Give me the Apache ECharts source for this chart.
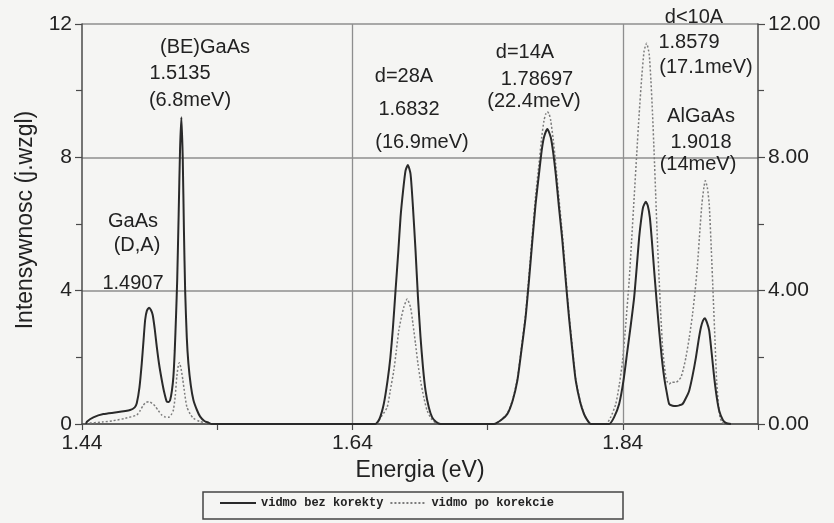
<!DOCTYPE html>
<html>
<head>
<meta charset="utf-8">
<script src="https://cdn.jsdelivr.net/npm/echarts@6/dist/echarts.min.js"></script>
<style>
  html, body { margin: 0; padding: 0; background: #f5f5f3; }
  #chart { width: 834px; height: 523px; }
</style>
</head>
<body>
<div id="chart"></div>
<script>
// ---- Data ----
const seriesNames = ['vidmo bez korekty', 'vidmo po korekcie'];

// "vidmo bez korekty" (solid)
const solidEnergy = [
  1.4430, 1.4436, 1.4484, 1.4558, 1.4657, 1.4756, 1.4790, 1.4805, 1.4825, 1.4842,
  1.4855, 1.4867, 1.4880, 1.4896, 1.4910, 1.4923, 1.4938, 1.4953, 1.4970, 1.4990,
  1.5008, 1.5027, 1.5040, 1.5052, 1.5065, 1.5076, 1.5086, 1.5096, 1.5104, 1.5115,
  1.5125, 1.5135, 1.5145, 1.5154, 1.5163, 1.5175, 1.5187, 1.5205, 1.5224, 1.5250,
  1.5274, 1.5305, 1.5336, 1.5360,
  1.6570, 1.6600, 1.6632, 1.6660, 1.6681, 1.6700, 1.6719, 1.6740, 1.6756, 1.6775,
  1.6793, 1.6810, 1.6830, 1.6848, 1.6867, 1.6885, 1.6904, 1.6922, 1.6941, 1.6965,
  1.6990, 1.7020, 1.7052,
  1.7447, 1.7500, 1.7546, 1.7585, 1.7620, 1.7650, 1.7681, 1.7706, 1.7731, 1.7755,
  1.7780, 1.7800, 1.7817, 1.7842, 1.7867, 1.7885, 1.7904, 1.7928, 1.7953, 1.7978,
  1.8002, 1.8027, 1.8052, 1.8085, 1.8113, 1.8140, 1.8163,
  1.8299, 1.8335, 1.8373, 1.8405, 1.8434, 1.8460, 1.8484, 1.8503, 1.8521, 1.8535,
  1.8550, 1.8570, 1.8585, 1.8600, 1.8615, 1.8632, 1.8650, 1.8669, 1.8688, 1.8706,
  1.8725, 1.8743, 1.8768, 1.8793, 1.8818, 1.8842, 1.8867, 1.8891, 1.8916, 1.8941,
  1.8960, 1.8978, 1.8993, 1.9007, 1.9022, 1.9039, 1.9058, 1.9076, 1.9095, 1.9113,
  1.9140, 1.9163, 1.9200
];
const solidIntensity = [
  0, 0.07, 0.20, 0.30, 0.35, 0.42, 0.50, 0.62, 1.10, 1.82,
  2.50, 3.12, 3.40, 3.49, 3.42, 3.27, 2.85, 2.32, 1.80, 1.32,
  0.95, 0.67, 0.66, 0.72, 1.00, 1.42, 2.20, 3.30, 4.30, 6.30,
  8.20, 9.20, 8.00, 5.80, 4.00, 2.60, 1.82, 1.15, 0.72, 0.42,
  0.22, 0.09, 0.04, 0,
  0, 0.15, 0.60, 1.30, 2.00, 2.90, 4.00, 5.20, 6.20, 7.00,
  7.60, 7.77, 7.50, 6.50, 5.20, 3.80, 2.60, 1.70, 1.00, 0.50,
  0.20, 0.06, 0,
  0, 0.12, 0.30, 0.70, 1.30, 2.20, 3.20, 4.30, 5.50, 6.60,
  7.50, 8.20, 8.60, 8.85, 8.60, 8.15, 7.50, 6.50, 5.50, 4.30,
  3.20, 2.20, 1.30, 0.65, 0.30, 0.10, 0,
  0, 0.20, 0.60, 1.30, 2.20, 3.00, 3.80, 4.70, 5.60, 6.10,
  6.50, 6.67, 6.55, 6.20, 5.50, 4.60, 3.70, 2.80, 2.00, 1.40,
  0.95, 0.60, 0.55, 0.54, 0.56, 0.60, 0.78, 1.00, 1.45, 2.00,
  2.50, 2.90, 3.10, 3.17, 3.05, 2.80, 2.10, 1.40, 0.80, 0.40,
  0.12, 0.03, 0
];

// "vidmo po korekcie" (dotted)
const dottedEnergy = [
  1.4430, 1.4436, 1.4550, 1.4632, 1.4720, 1.4805, 1.4830, 1.4854, 1.4875, 1.4896,
  1.4918, 1.4940, 1.4965, 1.4990, 1.5015, 1.5039, 1.5060, 1.5076, 1.5090, 1.5101,
  1.5112, 1.5120, 1.5133, 1.5146, 1.5160, 1.5175, 1.5200, 1.5224, 1.5270, 1.5323,
  1.5350,
  1.6570, 1.6610, 1.6657, 1.6680, 1.6706, 1.6725, 1.6743, 1.6762, 1.6780, 1.6805,
  1.6830, 1.6848, 1.6867, 1.6885, 1.6904, 1.6928, 1.6953, 1.6985, 1.7015, 1.7040,
  1.7447, 1.7500, 1.7546, 1.7585, 1.7620, 1.7650, 1.7681, 1.7706, 1.7731, 1.7755,
  1.7780, 1.7800, 1.7817, 1.7830, 1.7842, 1.7855, 1.7867, 1.7885, 1.7904, 1.7928,
  1.7953, 1.7978, 1.8002, 1.8027, 1.8052, 1.8085, 1.8113, 1.8140, 1.8163,
  1.8274, 1.8310, 1.8348, 1.8375, 1.8398, 1.8422, 1.8447, 1.8465, 1.8484, 1.8503,
  1.8521, 1.8540, 1.8558, 1.8576, 1.8595, 1.8608, 1.8620, 1.8632, 1.8644, 1.8656,
  1.8669, 1.8682, 1.8694, 1.8706, 1.8719, 1.8731, 1.8743, 1.8760, 1.8793, 1.8810,
  1.8830, 1.8848, 1.8867, 1.8892, 1.8916, 1.8935, 1.8953, 1.8970, 1.8985, 1.9000,
  1.9010, 1.9025, 1.9039, 1.9055, 1.9069, 1.9082, 1.9094, 1.9107, 1.9119, 1.9135,
  1.9150
];
const dottedIntensity = [
  0, 0.02, 0.06, 0.10, 0.17, 0.27, 0.40, 0.57, 0.65, 0.67,
  0.62, 0.54, 0.40, 0.27, 0.21, 0.20, 0.28, 0.42, 0.85, 1.42,
  1.75, 1.84, 1.65, 1.32, 0.90, 0.52, 0.30, 0.17, 0.08, 0.03,
  0,
  0, 0.20, 0.50, 1.00, 1.60, 2.20, 2.80, 3.20, 3.50, 3.75,
  3.50, 3.00, 2.40, 1.80, 1.30, 0.80, 0.40, 0.15, 0.03, 0,
  0, 0.12, 0.32, 0.72, 1.35, 2.30, 3.30, 4.45, 5.70, 6.85,
  7.80, 8.60, 9.10, 9.30, 9.37, 9.30, 9.10, 8.55, 7.80, 6.75,
  5.70, 4.45, 3.30, 2.30, 1.35, 0.68, 0.32, 0.10, 0,
  0, 0.20, 0.60, 1.20, 1.90, 3.00, 4.30, 5.50, 6.80, 8.10,
  9.30, 10.40, 11.20, 11.42, 11.10, 10.30, 9.30, 8.10, 6.80, 5.50,
  4.30, 3.20, 2.30, 1.80, 1.40, 1.25, 1.20, 1.25, 1.25, 1.30,
  1.40, 1.65, 2.00, 2.60, 3.30, 4.00, 4.80, 5.80, 6.60, 7.10,
  7.30, 7.10, 6.60, 5.20, 3.80, 2.50, 1.30, 0.60, 0.20, 0.05,
  0
];

// Axes
const xTickValues = [1.44, 1.54, 1.64, 1.74, 1.84, 1.94];
const xLabelValues = [1.44, 1.64, 1.84];
const xGridValues = [1.64, 1.84];
const yMin = 0, yMax = 12, yStep = 4;

// Texts
const xTitle = 'Energia (eV)';
const yTitle = 'Intensywnosc (j.wzgl)';
const annotations = [
  '(BE)GaAs', '1.5135', '(6.8meV)',
  'GaAs', '(D,A)', '1.4907',
  'd=28A', '1.6832', '(16.9meV)',
  'd=14A', '1.78697', '(22.4meV)',
  'd<10A', '1.8579', '(17.1meV)',
  'AlGaAs', '1.9018', '(14meV)'
];

// ---- Build chart ----
const zip = (xs, ys) => xs.map((x, i) => [x, ys[i]]);
const FONT = '"Liberation Sans", Arial, sans-serif';
const axisColor = '#4a4a4a';
const gridColor = '#8e8e8e';

// Annotation placement (pixel centres)
const annPos = [
  [205, 47], [180, 73], [190, 100],
  [133, 221], [137, 245], [133, 283],
  [404, 76], [409, 109], [422, 142],
  [525, 52], [537, 79], [534, 101],
  [694, 17], [689, 42], [706, 67],
  [701, 116], [701, 142], [698, 164]
];

const graphic = annotations.map((t, i) => ({
  type: 'text', x: annPos[i][0], y: annPos[i][1], silent: true, z: 10,
  style: { text: t, font: '20px ' + FONT, fill: '#222', align: 'center', verticalAlign: 'middle' }
}));
graphic.push({
  type: 'text', x: 420, y: 471, silent: true,
  style: { text: xTitle, font: '23px ' + FONT, fill: '#222', align: 'center', verticalAlign: 'middle' }
});
graphic.push({
  type: 'text', x: 26, y: 220, rotation: Math.PI / 2, silent: true,
  style: { text: yTitle, font: '23px ' + FONT, fill: '#222', align: 'center', verticalAlign: 'middle' }
});
graphic.push({
  type: 'rect', silent: true,
  shape: { x: 203, y: 492, width: 420, height: 27 },
  style: { fill: 'none', stroke: '#444', lineWidth: 1.5 }
});

const yAxisCommon = {
  type: 'value', min: yMin, max: yMax, interval: yStep,
  axisLine: { show: true, lineStyle: { color: axisColor, width: 1.5 } },
  axisTick: { show: true, inside: false, length: 7, lineStyle: { color: axisColor, width: 1.2 } },
  minorTick: { show: true, splitNumber: 2, length: 6, lineStyle: { color: axisColor, width: 1.2 } },
};

const option = {
  backgroundColor: '#f5f5f3',
  animation: false,
  grid: { left: 82, right: 76, top: 24, bottom: 99, containLabel: false },
  legend: {
    left: 219, top: 497, itemWidth: 36, itemHeight: 10, itemGap: 6,
    selectedMode: false, padding: 0,
    itemStyle: { opacity: 0, borderWidth: 0 },
    textStyle: { fontFamily: '"Liberation Mono", "DejaVu Sans Mono", monospace', fontWeight: 'bold', fontSize: 12, color: '#222' },
    data: seriesNames
  },
  xAxis: {
    type: 'value', min: 1.44, max: 1.94,
    axisLine: { show: true, onZero: false, lineStyle: { color: axisColor, width: 1.5 } },
    axisTick: { show: true, length: 6, customValues: xTickValues, lineStyle: { color: axisColor, width: 1.2 } },
    axisLabel: { customValues: xLabelValues, formatter: v => v.toFixed(2), fontSize: 21, fontFamily: FONT, color: '#222', margin: 9 },
    splitLine: { show: false }
  },
  yAxis: [
    Object.assign({}, yAxisCommon, {
      position: 'left',
      axisLabel: { fontSize: 21, fontFamily: FONT, color: '#222', margin: 10 },
      splitLine: { show: true, lineStyle: { color: gridColor, width: 1.5 } }
    }),
    Object.assign({}, yAxisCommon, {
      position: 'right',
      axisLabel: { fontSize: 21, fontFamily: FONT, color: '#222', margin: 10, formatter: v => v.toFixed(2) },
      splitLine: { show: false }
    })
  ],
  series: [
    {
      name: seriesNames[0], type: 'line', xAxisIndex: 0, yAxisIndex: 0,
      data: zip(solidEnergy, solidIntensity),
      showSymbol: false, symbol: 'none', smooth: 0.2, z: 5,
      lineStyle: { color: '#2a2a2a', width: 2 },
      itemStyle: { color: '#2a2a2a' },
      markLine: {
        silent: true, symbol: ['none', 'none'], label: { show: false },
        lineStyle: { color: gridColor, width: 1.3, type: 'solid' },
        data: xGridValues.map(v => ({ xAxis: v }))
      }
    },
    {
      name: seriesNames[1], type: 'line', xAxisIndex: 0, yAxisIndex: 0,
      data: zip(dottedEnergy, dottedIntensity),
      showSymbol: false, symbol: 'none', smooth: 0.2, z: 4,
      lineStyle: { color: '#7c7c7c', width: 1.5, type: [2, 2] },
      itemStyle: { color: '#7c7c7c' }
    }
  ],
  graphic: graphic
};

const chart = echarts.init(document.getElementById('chart'), null, { renderer: 'canvas' });
chart.setOption(option);
</script>
</body>
</html>
